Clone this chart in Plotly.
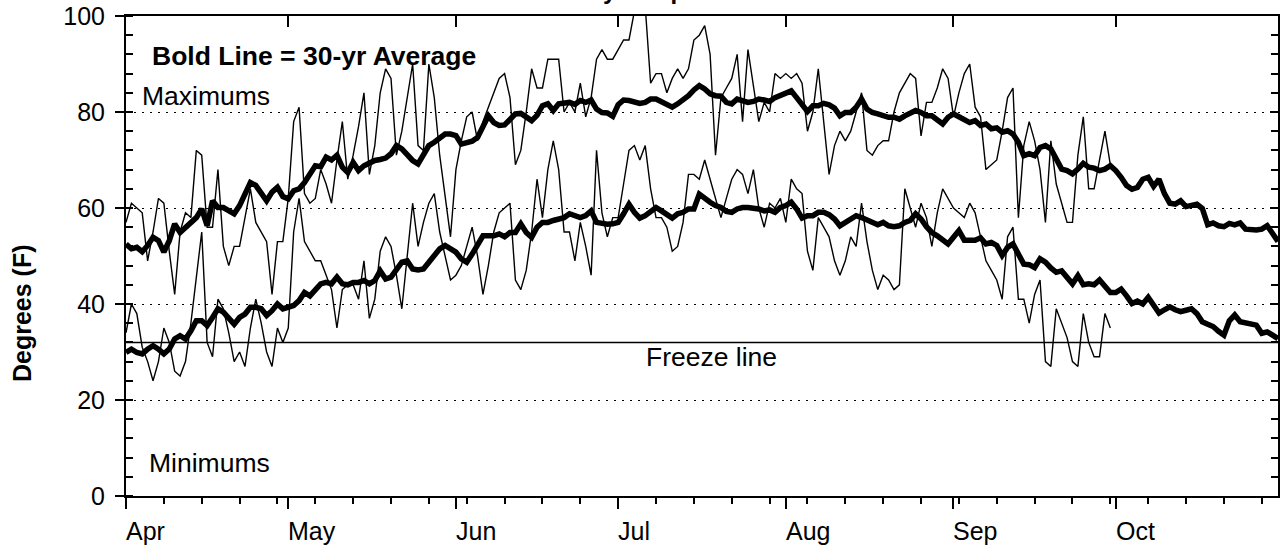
import plotly.graph_objects as go
import pandas as pd

# ---------------- data ----------------
START = "2023-04-01"
END = "2023-10-31"
MONTH_LABELS = ["Apr", "May", "Jun", "Jul", "Aug", "Sep", "Oct"]
Y_TICKS = [0, 20, 40, 60, 80, 100]
FREEZE = 32

# 30-yr average daily maximum (Apr 1 - Oct 31)
MAX_AVG = [
    52.5, 51.5, 51.8, 50.9, 52.2, 53.9, 53.2, 50.8, 53.2, 56.7,
    54.9, 56.0, 56.8, 58.0, 59.8, 56.3, 61.5, 60.1, 60.1, 59.4,
    58.8, 60.5, 62.6, 65.3, 64.7, 62.9, 61.5, 63.3, 64.3, 62.4,
    61.9, 63.6, 64.0, 65.3, 67.1, 68.8, 68.6, 70.6, 70.0, 71.0,
    68.5, 67.4, 69.5, 67.8, 68.8, 69.5, 69.9, 70.1, 70.4, 71.3,
    73.0, 72.3, 70.9, 69.9, 69.2, 71.3, 73.0, 73.7, 74.7, 75.4,
    75.4, 75.1, 73.3, 73.7, 73.9, 74.7, 77.2, 79.2, 77.8, 77.2,
    77.3, 78.5, 79.6, 79.7, 78.9, 78.2, 79.3, 81.3, 81.7, 80.3,
    81.7, 81.8, 82.0, 81.6, 82.4, 82.0, 82.5, 80.6, 79.9, 79.8,
    79.1, 81.5, 82.5, 82.4, 82.0, 81.8, 82.0, 82.7, 82.7, 82.2,
    81.7, 81.0, 81.7, 82.4, 83.4, 84.6, 85.5, 84.8, 83.8, 83.4,
    83.3, 82.0, 81.7, 82.7, 82.4, 82.0, 82.2, 82.7, 82.5, 82.2,
    83.0, 83.4, 83.9, 84.4, 83.0, 81.7, 80.1, 81.3, 81.3, 81.8,
    81.5, 80.8, 79.2, 79.9, 79.9, 81.0, 82.7, 80.6, 79.9, 79.6,
    79.2, 78.9, 78.9, 78.5, 79.2, 79.9, 80.3, 79.9, 79.2, 79.2,
    78.2, 77.5, 78.9, 79.6, 79.0, 78.3, 77.8, 78.2, 77.2, 77.5,
    76.5, 76.7, 75.8, 76.1, 75.4, 73.7, 70.9, 71.3, 70.9, 72.6,
    73.0, 72.3, 69.9, 68.1, 67.8, 67.1, 68.1, 69.3, 68.5, 68.3,
    67.8, 68.1, 68.8, 67.8, 66.4, 64.7, 63.9, 64.3, 66.0, 66.4,
    64.5, 66.0, 63.0, 61.0, 60.8, 61.5, 60.3, 60.6, 60.8, 59.9,
    56.5, 56.9, 56.3, 56.1, 56.8, 56.5, 56.9, 55.6, 55.4, 55.4,
    55.6, 56.3, 54.7, 53.0,
]

# 30-yr average daily minimum (Apr 1 - Oct 31)
MIN_AVG = [
    29.9, 30.6, 29.9, 29.6, 30.6, 31.3, 30.6, 29.6, 30.6, 32.7,
    33.4, 32.7, 34.4, 36.5, 36.5, 35.5, 37.2, 39.0, 38.3, 37.2,
    35.8, 37.2, 37.9, 39.3, 39.3, 39.0, 37.6, 38.6, 40.0, 39.0,
    39.3, 39.7, 40.7, 42.4, 41.7, 43.1, 44.2, 44.5, 44.2, 45.6,
    44.2, 44.0, 44.5, 44.5, 44.9, 44.2, 44.9, 46.9, 45.2, 45.6,
    47.3, 48.7, 49.0, 47.3, 47.1, 47.3, 48.7, 50.1, 51.5, 52.2,
    51.5, 50.8, 49.4, 48.7, 50.4, 52.5, 54.2, 54.2, 54.2, 54.6,
    54.0, 54.9, 54.9, 56.7, 54.9, 53.9, 56.0, 57.0, 57.0, 57.4,
    57.7, 58.0, 58.8, 58.4, 58.0, 58.4, 59.4, 57.0, 56.7, 56.6,
    56.7, 57.0, 58.8, 60.8, 59.1, 57.9, 58.4, 59.4, 60.1, 59.4,
    58.8, 57.9, 58.8, 59.1, 59.8, 59.8, 62.9, 61.9, 61.2, 60.5,
    60.1, 59.3, 59.1, 59.8, 60.1, 60.1, 60.0, 59.8, 59.4, 59.6,
    59.1, 60.1, 60.5, 61.2, 59.8, 57.9, 58.4, 58.4, 59.1, 59.1,
    58.6, 57.7, 56.3, 57.0, 58.0, 58.4, 58.0, 57.4, 57.0, 56.5,
    57.0, 56.3, 56.1, 56.3, 57.0, 57.4, 58.8, 57.7, 56.1, 54.9,
    54.2, 53.5, 52.5, 53.9, 55.3, 53.3, 53.3, 53.3, 53.8, 52.5,
    52.8, 52.2, 50.1, 51.8, 52.5, 50.4, 48.3, 48.2, 47.6, 49.4,
    48.7, 47.5, 46.6, 46.9, 45.6, 44.2, 45.9, 44.0, 44.2, 44.0,
    45.0, 43.8, 42.4, 42.4, 43.1, 41.7, 40.1, 40.6, 40.0, 41.4,
    39.5, 38.1, 38.8, 39.4, 38.8, 38.4, 38.7, 39.0, 38.0, 36.3,
    35.8, 35.3, 34.3, 33.5, 36.5, 37.7, 36.3, 36.0, 35.8, 35.6,
    33.9, 34.2, 33.5, 32.8,
]

# observed daily maximum (Apr 1 - Sep 30)
MAX_OBS = [
    57, 61, 60, 59, 49, 55, 62, 61, 51, 42,
    55, 59, 58, 72, 71, 56, 56, 68, 52, 48,
    52, 52, 58, 64, 57, 55, 53, 42, 53, 53,
    62, 78, 81, 63, 61, 62, 68, 65, 61, 70,
    78, 66, 71, 77, 84, 67, 73, 84, 89, 87,
    71, 76, 83, 90, 73, 72, 90, 83, 71, 62,
    54, 68, 74, 79, 80, 74, 78, 81, 84, 87,
    88, 83, 69, 72, 80, 89, 85, 85, 91, 91,
    91, 80, 82, 80, 86, 79, 83, 91, 93, 91,
    91, 93, 95, 95, 101, 104, 102, 86, 88, 88,
    84, 87, 89, 87, 89, 95, 96, 98, 92, 71,
    83, 85, 87, 92, 78, 93, 85, 78, 82, 80,
    88, 87, 88, 87, 88, 86, 76, 80, 89, 78,
    67, 73, 76, 74, 76, 80, 84, 72, 71, 73,
    74, 74, 80, 84, 86, 88, 87, 75, 82, 82,
    85, 89, 87, 79, 84, 88, 90, 81, 79, 68,
    69, 70, 76, 83, 85, 58, 73, 78, 74, 68,
    57, 74, 65, 61, 57, 57, 71, 79, 64, 64,
    70, 76, 69,
]

# observed daily minimum (Apr 1 - Sep 30)
MIN_OBS = [
    34, 40, 38, 31, 28, 24, 28, 35, 32, 26,
    25, 28, 36, 45, 55, 32, 29, 41, 39, 34,
    28, 30, 27, 35, 41, 36, 30, 27, 35, 32,
    35, 55, 62, 53, 51, 49, 49, 46, 43, 35,
    43, 44, 44, 41, 49, 37, 41, 51, 54, 52,
    46, 39, 50, 61, 52, 57, 61, 63, 55, 50,
    45, 46, 48, 52, 56, 50, 42, 48, 55, 59,
    60, 61, 45, 43, 47, 55, 66, 58, 68, 74,
    68, 55, 55, 49, 57, 52, 46, 72, 59, 54,
    58, 58, 65, 72, 73, 70, 73, 64, 58, 58,
    56, 51, 52, 57, 67, 67, 66, 70, 66, 62,
    58, 62, 66, 68, 67, 63, 68, 60, 56, 61,
    60, 62, 57, 66, 64, 63, 51, 47, 58, 56,
    54, 49, 46, 49, 54, 52, 61, 53, 47, 43,
    46, 45, 43, 44, 64, 60, 56, 61, 58, 52,
    59, 64, 62, 60, 59, 58, 61, 59, 54, 49,
    47, 45, 41, 54, 56, 41, 41, 36, 42, 45,
    28, 27, 39, 36, 33, 28, 27, 38, 32, 29,
    29, 38, 35,
]

# ---------------- figure ----------------
W, H = 1281, 552
ML, MR, MT, MB = 126, 3, 16, 56
PW, PH = W - ML - MR, H - MT - MB

def px_x(p):
    return (p - ML) / PW

def px_y(p):
    return (H - MB - p) / PH

FONT = "Liberation Sans, Arial, Helvetica, sans-serif"

dates = pd.date_range(START, END, freq="D")
obs_dates = dates[:len(MAX_OBS)]
month_starts = pd.date_range(START, END, freq="MS")
weeks = pd.date_range(START, END, freq="7D")

fig = go.Figure()
thin = dict(color="black", width=1.4)
bold = dict(color="black", width=5.5)
fig.add_trace(go.Scatter(x=obs_dates, y=MAX_OBS, mode="lines", line=thin, name="Max"))
fig.add_trace(go.Scatter(x=obs_dates, y=MIN_OBS, mode="lines", line=thin, name="Min"))
fig.add_trace(go.Scatter(x=dates, y=MAX_AVG, mode="lines", line=bold, name="Avg max"))
fig.add_trace(go.Scatter(x=dates, y=MIN_AVG, mode="lines", line=bold, name="Avg min"))
# helper trace so that the top / right frame axes are drawn
fig.add_trace(go.Scatter(x=[dates[0], dates[-1]], y=[None, None], xaxis="x2", yaxis="y2",
                         mode="lines", hoverinfo="skip", showlegend=False))

fig.add_shape(type="line", xref="paper", x0=0, x1=1, yref="y", y0=FREEZE, y1=FREEZE,
              line=dict(color="black", width=1.5))

rng = [START, END]
fig.update_layout(
    width=W, height=H,
    margin=dict(l=ML, r=MR, t=MT, b=MB, pad=0),
    paper_bgcolor="white", plot_bgcolor="white",
    showlegend=False,
    font=dict(family=FONT, color="black", size=25),
    xaxis=dict(
        type="date", range=rng, showgrid=False, zeroline=False,
        showline=True, linecolor="black", linewidth=2,
        tickmode="array", tickvals=list(month_starts), showticklabels=False,
        ticks="outside", ticklen=11, tickwidth=1.5, tickcolor="black",
        minor=dict(tickmode="array", tickvals=list(weeks), ticks="outside",
                   ticklen=6, tickwidth=1.5, tickcolor="black", showgrid=False),
    ),
    xaxis2=dict(
        type="date", range=rng, overlaying="x", side="top", anchor="y2",
        showgrid=False, zeroline=False, showline=True, linecolor="black", linewidth=2,
        tickmode="array", tickvals=list(month_starts), showticklabels=False,
        ticks="inside", ticklen=11, tickwidth=1.5, tickcolor="black",
    ),
    yaxis=dict(
        range=[0, 100], tickmode="array", tickvals=Y_TICKS,
        ticks="outside", ticklen=9, tickwidth=1.5, tickcolor="black",
        tickfont=dict(size=25), ticklabelstandoff=5,
        showgrid=True, gridcolor="black", gridwidth=1.3, griddash="2px,6px",
        zeroline=False, showline=True, linecolor="black", linewidth=2,
        minor=dict(dtick=4, ticks="inside", ticklen=7, tickwidth=1.5,
                   tickcolor="black", showgrid=False),
    ),
    yaxis2=dict(
        range=[0, 100], overlaying="y", side="right", anchor="x2",
        showgrid=False, zeroline=False, showline=True, linecolor="black", linewidth=2,
        tickmode="array", tickvals=Y_TICKS, showticklabels=False,
        ticks="inside", ticklen=8, tickwidth=1.5, tickcolor="black",
        minor=dict(dtick=4, ticks="inside", ticklen=7, tickwidth=1.5,
                   tickcolor="black", showgrid=False),
    ),
)

ann = []
for lbl, ms in zip(MONTH_LABELS, month_starts):
    ann.append(dict(x=ms, xref="x", y=px_y(531), yref="paper", text=lbl,
                    xanchor="left", yanchor="middle", xshift=-2, showarrow=False,
                    font=dict(size=25)))
ann += [
    dict(x=px_x(669), y=px_y(6), xref="paper", yref="paper", text="<b>Daily Temperatures</b>",
         xanchor="center", yanchor="bottom", showarrow=False, font=dict(size=24)),
    dict(x=px_x(150), y=px_y(56), xref="paper", yref="paper", text="<b>Bold Line = 30-yr Average</b>",
         xanchor="left", yanchor="middle", showarrow=False, font=dict(size=26.5)),
    dict(x=px_x(140), y=px_y(96), xref="paper", yref="paper", text="Maximums",
         xanchor="left", yanchor="middle", showarrow=False, font=dict(size=26.5)),
    dict(x=px_x(147), y=px_y(463), xref="paper", yref="paper", text="Minimums",
         xanchor="left", yanchor="middle", showarrow=False, font=dict(size=26.5)),
    dict(x=px_x(711), y=px_y(357), xref="paper", yref="paper", text="Freeze line",
         xanchor="center", yanchor="middle", showarrow=False, font=dict(size=26.5)),
    dict(x=px_x(22), y=px_y(313), xref="paper", yref="paper", text="<b>Degrees (F)</b>",
         xanchor="center", yanchor="middle", textangle=-90, showarrow=False, font=dict(size=25)),
]
fig.update_layout(annotations=ann)

fig.write_html(
    "out.html",
    config={"displayModeBar": False},
    post_script="document.body.style.margin='0px';document.body.style.overflow='hidden';",
)
